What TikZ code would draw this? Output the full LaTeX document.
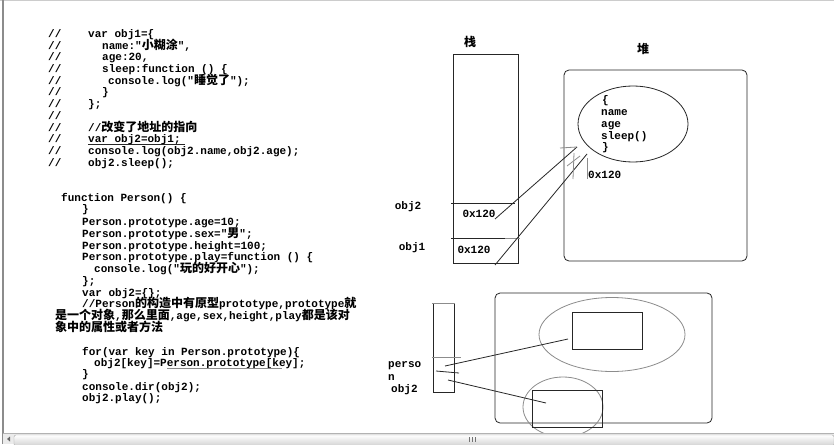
\documentclass[tikz,border=0pt]{standalone}
\usepackage{fontspec}
\usepackage{tikz}
\setmonofont{Liberation Mono}
\newfontfamily\cjk{Noto Sans CJK SC}
\usetikzlibrary{positioning}

% chinese text inside the mono code lines
\newcommand\zh[1]{{\cjk\bfseries\fontsize{12}{12}\selectfont #1}}
\newcommand\codefont{\ttfamily\bfseries\fontsize{11}{11}\selectfont}

\tikzset{
  codeline/.style={font=\codefont, anchor=base west, inner sep=0pt, yshift=-3.5pt},
  tag/.style={font=\codefont, inner sep=0pt},
  thin line/.style={line width=0.8pt, black!85},
  faint line/.style={line width=0.8pt, black!45}
}

\begin{document}
\begin{tikzpicture}[x=1pt,y=-1pt]
  \useasboundingbox (0,0) rectangle (834,444);
  \fill[white] (0,0) rectangle (834,444);
  % editor frame
  \draw[black!20,line width=1pt] (0,0.5) -- (834,0.5);
  \draw[black!45,line width=2pt] (3,0) -- (3,444);

  % first code block, commented out
  \foreach \y [count=\i] in {34,45.7,57.3,69,81,92.3,104,115.7,127.7,139.3,151,163.3}
    \node[codeline] (c\i) at (48,\y) {//};
  \node[codeline] (a1) at (88,34) {var obj1=\{};
  \node[codeline] (a2) at (102,45.7) {name:"\zh{小糊涂}",};
  \node[codeline] (a3) at (102,57.3) {age:20,};
  \node[codeline] (a4) at (102,69) {sleep:function () \{};
  \node[codeline] (a5) at (108,81) {console.log("\zh{睡觉了}");};
  \node[codeline] (a6) at (102,92.3) {\}};
  \node[codeline] (a7) at (88,104) {\};};
  \node[codeline] (a8) at (88,127.7) {//\zh{改变了地址的指向}};
  \node[codeline] (a9) at (88,139.3) {var obj2=obj1;};
  \node[codeline] (a10) at (88,151) {console.log(obj2.name,obj2.age);};
  \node[codeline] (a11) at (88,163.3) {obj2.sleep();};
  \draw[thin line] (88,144.5) -- (185,144.5);

  % second code block
  \node[codeline] (b1) at (61,198.3) {function Person() \{};
  \node[codeline] (b2) at (82,209.3) {\}};
  \node[codeline] (b3) at (82,222.3) {Person.prototype.age=10;};
  \node[codeline] (b4) at (82,234) {Person.prototype.sex="\zh{男}";};
  \node[codeline] (b5) at (82,245.7) {Person.prototype.height=100;};
  \node[codeline] (b6) at (82,257.3) {Person.prototype.play=function () \{};
  \node[codeline] (b7) at (94,269.3) {console.log("\zh{玩的好开心}");};
  \node[codeline] (b8) at (82,280.7) {\};};
  \node[codeline] (b9) at (82,292.7) {var obj2=\{\};};
  \node[codeline] (b10) at (82,304.3) {//Person\zh{的构造中有原型}prototype,prototype\zh{就}};
  \node[codeline] (b11) at (55,316) {\zh{是一个对象},\zh{那么里面},age,sex,height,play\zh{都是该对}};
  \node[codeline] (b12) at (55,327.7) {\zh{象中的属性或者方法}};
  \node[codeline] (b13) at (82,351.7) {for(var key in Person.prototype)\{};
  \node[codeline] (b14) at (94,363.3) {obj2[key]=Person.prototype[key];};
  \node[codeline] (b15) at (82,374.3) {\}};
  \node[codeline] (b16) at (82,386.7) {console.dir(obj2);};
  \node[codeline] (b17) at (82,398.3) {obj2.play();};
  \draw[faint line] (167,368) -- (282,368);

  % stack and heap, top
  \node[tag] (stack) at (470,42) {\zh{栈}};
  \node[tag] (heap) at (643,49) {\zh{堆}};
  \draw[thin line] (453,54) rectangle (518,263);
  \draw[thin line] (451,203) -- (515,203);
  \draw[thin line] (451,238) -- (505,238);
  \draw[faint line] (505,238.5) -- (520,238.5);
  \node[tag] (n2) at (408,207) {obj2};
  \node[tag] (n1) at (412,248) {obj1};
  \node[tag] (v2) at (479,214) {0x120};
  \node[tag] (v1) at (474,250) {0x120};
  \draw[thin line,rounded corners=5pt] (564,70) rectangle (747,261);
  \draw[thin line] (633,124) ellipse [x radius=55, y radius=38];
  \node[codeline] (o1) at (602,100) {\{};
  \node[codeline] (o2) at (601,112) {name};
  \node[codeline] (o3) at (601,124) {age};
  \node[codeline] (o4) at (601,136) {sleep()};
  \node[codeline] (o5) at (602,147) {\}};
  \node[codeline] (addr) at (588,175) {0x120};

  % pointers to the heap object
  \coordinate (p2) at (495,219);
  \coordinate (t2) at (577,147);
  \coordinate (p1) at (495,265);
  \coordinate (t1) at (587,154);
  \draw[thin line] (p2) -- (t2);
  \draw[thin line] (p1) -- (t1);
  \draw[faint line] (t2) -- (560,148);
  \draw[faint line] (574,153) -- (573,179);
  \draw[faint line] (587,158) -- (587,179);
  \draw[faint line] (567,166) -- (580,156);

  % stack and heap, bottom
  \draw[thin line] (433,303) rectangle (454,392);
  \draw[faint line] (432,303) -- (455,303);
  \draw[faint line] (432,357) -- (461,357);
  \draw[thin line] (436,371) -- (459,373);
  \node[codeline] (q1) at (388,364) {perso};
  \node[codeline] (q2) at (388,377) {n};
  \node[codeline] (q3) at (391,389) {obj2};
  \draw[thin line,rounded corners=5pt] (495,293) rectangle (712,423);
  \draw[faint line] (612,334.5) ellipse [x radius=73, y radius=37];
  \draw[thin line] (572,312) rectangle (642,349);
  \draw[faint line] (563,407) ellipse [x radius=40, y radius=30];
  \draw[thin line] (532,390) rectangle (602,427);
  \coordinate (pa) at (445,366);
  \coordinate (qa) at (568,339);
  \coordinate (pb) at (448,380);
  \coordinate (qb) at (546,403);
  \draw[thin line] (pa) -- (qa);
  \draw[thin line] (pb) -- (qb);

  % scrollbar
  \fill[black!8] (3,433) rectangle (834,444);
  \draw[black!30] (3,433.5) -- (834,433.5);
  \shade[top color=white,bottom color=black!18,rounded corners=2pt,draw=black!35] (14,435) rectangle (834,446);
  \fill[black!60] (10,436.5) -- (10,441.5) -- (7,439) -- cycle;
  \foreach \x in {469,472,475}
    \draw[black!55,line width=0.7pt] (\x,437) -- (\x,442);
\end{tikzpicture}
\end{document}
